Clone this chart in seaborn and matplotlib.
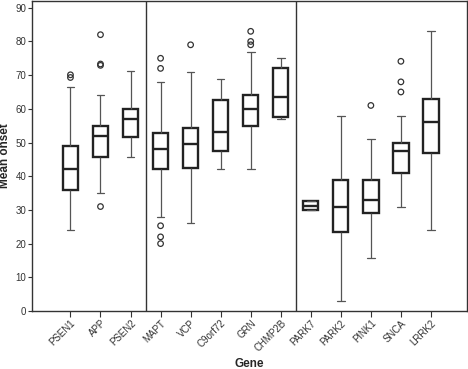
import matplotlib
matplotlib.use("Agg")
import pandas as pd
import numpy as np
import matplotlib.pyplot as plt
import seaborn as sns

# gene groups and box summary values
genes = ["PSEN1", "APP", "PSEN2", "MAPT", "VCP", "C9orf72", "GRN", "CHMP2B",
         "PARK7", "PARK2", "PINK1", "SNCA", "LRRK2"]
whisker_low = [24, 35, 45.8, 28, 26, 42, 42, 57.1, 29.9, 3, 15.7, 31, 24]
q1 = [36, 45.7, 51.7, 42, 42.5, 47.5, 55, 57.5, 29.9, 23.4, 29, 40.9, 46.9]
median = [42, 52, 57.1, 48, 49.5, 53, 60, 63.6, 31.3, 31, 32.9, 47.5, 56]
q3 = [49, 55, 60, 52.9, 54.3, 62.6, 64, 72, 32.7, 39, 39, 50, 63]
whisker_high = [66.5, 64, 71.1, 68, 70.8, 69, 77, 75, 32.7, 58, 51, 58, 83]

# outliers (gene, value)
outlier_gene = ["PSEN1", "PSEN1", "APP", "APP", "APP", "APP",
                "MAPT", "MAPT", "MAPT", "MAPT", "MAPT", "VCP",
                "GRN", "GRN", "GRN", "PINK1", "SNCA", "SNCA", "SNCA"]
outlier_val = [70.1, 69.3, 82, 73.3, 72.9, 31,
               75, 72, 25.3, 22, 20, 79,
               83, 80, 79, 61, 74.1, 68, 65]

sns.set_style("ticks")
plt.rcParams['font.family'] = ['Liberation Sans', 'DejaVu Sans']

# five summary values per gene -> boxes with whiskers at min/max
rows = []
for i, g in enumerate(genes):
    for v in [whisker_low[i], q1[i], median[i], q3[i], whisker_high[i]]:
        rows.append({"Gene": g, "Mean onset": v})
df = pd.DataFrame(rows)

fig = plt.figure(figsize=(4.68, 3.69), dpi=100)
ax = fig.add_axes([32/468, 1-311/369, 435/468, 310/369])

sns.boxplot(data=df, x="Gene", y="Mean onset", order=genes, whis=(0, 100),
            width=0.51, color="white", linecolor="black", ax=ax,
            boxprops=dict(linewidth=1.7, edgecolor="#222222", facecolor="white"),
            medianprops=dict(linewidth=1.7, color="#222222"),
            whiskerprops=dict(linewidth=0.9, color="#555555"),
            capprops=dict(linewidth=0.9, color="#555555"))

out_x = [genes.index(g) for g in outlier_gene]
sns.scatterplot(x=out_x, y=outlier_val, marker="o", s=16, facecolor="none",
                edgecolor="#333333", linewidth=0.9, ax=ax, legend=False)

ax.axvline(2.5, color="#333333", lw=1)
ax.axvline(7.5, color="#333333", lw=1)

ax.set_xlim(-1.28, 13.2)
ax.set_ylim(0, 92)
ax.set_yticks(range(0, 91, 10))
ax.set_xticks(range(len(genes)))
ax.set_xticklabels(genes, rotation=45, ha="right", rotation_mode="anchor", fontsize=7)
ax.tick_params(axis="y", labelsize=7, length=3, width=0.8, colors="#333333", pad=1)
ax.tick_params(axis="x", length=4, width=0.8, colors="#333333", pad=1)
ax.set_xlabel("Gene", fontsize=8.5, fontweight="bold")
ax.set_ylabel("Mean onset", fontsize=8.5, fontweight="bold")
ax.xaxis.set_label_coords(0.5, -0.152)
ax.yaxis.set_label_coords(-0.049, 0.5)
for s in ax.spines.values():
    s.set_visible(True)
    s.set_color("#333333")
    s.set_linewidth(1)

fig.savefig("out.png", dpi=100)
